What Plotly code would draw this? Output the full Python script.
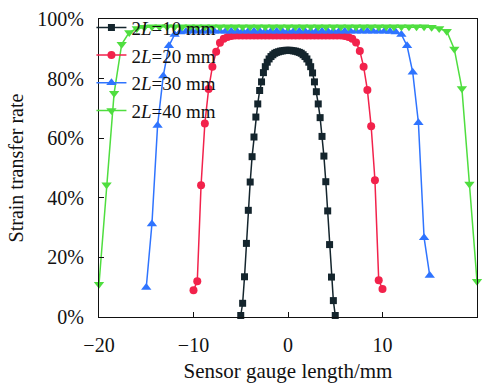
import plotly.graph_objects as go

# ---- data ----
x10 = [-5.0, -4.8, -4.6, -4.4, -4.2, -4.0, -3.8, -3.6, -3.4, -3.2, -3.0, -2.8, -2.6, -2.4, -2.2, -2.0,
       -1.8, -1.6, -1.4, -1.2, -1.0, -0.8, -0.6, -0.4, -0.2, 0.0, 0.2, 0.4, 0.6, 0.8, 1.0, 1.2, 1.4,
       1.6, 1.8, 2.0, 2.2, 2.4, 2.6, 2.8, 3.0, 3.2, 3.4, 3.6, 3.8, 4.0, 4.2, 4.4, 4.6, 4.8, 5.0]
y10 = [0.5, 4.6, 13.5, 24.7, 35.8, 45.3, 53.8, 60.4, 67.1, 71.5, 76.0, 78.9, 82.0, 84.0, 85.5, 86.6,
       87.4, 88.0, 88.5, 88.8, 89.0, 89.2, 89.3, 89.4, 89.5, 89.5, 89.5, 89.4, 89.3, 89.2, 89.0, 88.8,
       88.5, 88.0, 87.4, 86.6, 85.5, 84.0, 81.9, 78.9, 75.6, 71.5, 66.9, 60.6, 54.0, 45.4, 35.6, 24.3,
       13.4, 5.5, 0.5]

x20 = [-10.0, -9.6, -9.2, -8.8, -8.4, -8.0, -7.6, -7.2, -6.8, -6.4, -6.0, -5.6, -5.2, -4.8, -4.4, -4.0,
       -3.6, -3.2, -2.8, -2.4, -2.0, -1.6, -1.2, -0.8, -0.4, 0.0, 0.4, 0.8, 1.2, 1.6, 2.0, 2.4, 2.8, 3.2,
       3.6, 4.0, 4.4, 4.8, 5.2, 5.6, 6.0, 6.4, 6.8, 7.2, 7.6, 8.0, 8.4, 8.8, 9.2, 9.6, 10.0]
y20 = [9.0, 12.0, 44.2, 64.9, 76.5, 84.0, 89.0, 92.0, 93.4, 94.0, 94.3, 94.5, 94.5, 94.5, 94.5, 94.5,
       94.5, 94.5, 94.5, 94.5, 94.5, 94.5, 94.5, 94.5, 94.5, 94.5, 94.5, 94.5, 94.5, 94.5, 94.5, 94.5,
       94.5, 94.5, 94.5, 94.5, 94.5, 94.5, 94.5, 94.5, 94.3, 94.0, 93.4, 92.1, 89.3, 84.0, 76.2, 64.0,
       45.9, 12.3, 9.4]

x30 = [-15.0, -14.4, -13.8, -13.2, -12.6, -12.0, -11.4, -10.8, -10.2, -9.6, -9.0, -8.4, -7.8, -7.2,
       -6.6, -6.0, -5.4, -4.8, -4.2, -3.6, -3.0, -2.4, -1.8, -1.2, -0.6, 0.0, 0.6, 1.2, 1.8, 2.4, 3.0,
       3.6, 4.2, 4.8, 5.4, 6.0, 6.6, 7.2, 7.8, 8.4, 9.0, 9.6, 10.2, 10.8, 11.4, 12.0, 12.6, 13.2, 13.8,
       14.4, 15.0]
y30 = [9.9, 31.2, 64.3, 80.9, 91.0, 94.8, 95.6, 95.8, 95.9, 95.9, 95.9, 95.9, 95.9, 95.9, 95.9, 95.9,
       95.9, 95.9, 95.9, 95.9, 95.9, 95.9, 95.9, 95.9, 95.9, 95.9, 95.9, 95.9, 95.9, 95.9, 95.9, 95.9,
       95.9, 95.9, 95.9, 95.9, 95.9, 95.9, 95.9, 95.9, 95.9, 95.9, 95.9, 95.8, 95.6, 94.8, 91.0, 82.1,
       65.2, 26.6, 13.9]

x40 = [-20.0, -19.2, -18.4, -17.6, -16.8, -16.0, -15.2, -14.4, -13.6, -12.8, -12.0, -11.2, -10.4,
       -9.6, -8.8, -8.0, -7.2, -6.4, -5.6, -4.8, -4.0, -3.2, -2.4, -1.6, -0.8, 0.0, 0.8, 1.6, 2.4, 3.2,
       4.0, 4.8, 5.6, 6.4, 7.2, 8.0, 8.8, 9.6, 10.4, 11.2, 12.0, 12.8, 13.6, 14.4, 15.2, 16.0, 16.8,
       17.6, 18.4, 19.2, 20.0]
y40 = [11.0, 44.4, 75.1, 91.5, 95.5, 96.8, 97.2, 97.4, 97.4, 97.4, 97.4, 97.4, 97.4, 97.4, 97.4, 97.4,
       97.4, 97.4, 97.4, 97.4, 97.4, 97.4, 97.4, 97.4, 97.4, 97.4, 97.4, 97.4, 97.4, 97.4, 97.4, 97.4,
       97.4, 97.4, 97.4, 97.4, 97.4, 97.4, 97.4, 97.4, 97.4, 97.4, 97.4, 97.4, 97.2, 96.8, 95.9, 89.9,
       76.7, 44.6, 12.0]

x_ticks = [-20, -10, 0, 10, 20]
x_ticktext = ["\u221220", "\u221210", "0", "10", "20"]
y_ticks = [0, 20, 40, 60, 80, 100]
y_ticktext = ["0%", "20%", "40%", "60%", "80%", "100%"]

names = ["2<i>L</i>=10 mm", "2<i>L</i>=20 mm", "2<i>L</i>=30 mm", "2<i>L</i>=40 mm"]
colors = ["#14252d", "#f2224b", "#2f74ff", "#4fde3f"]
symbols = ["square", "circle", "triangle-up", "triangle-down"]
sizes = [7, 8, 9, 9]

FONT = "Liberation Serif"

fig = go.Figure()
for xs, ys, nm, c, s, sz in zip([x10, x20, x30, x40], [y10, y20, y30, y40], names, colors, symbols, sizes):
    fig.add_trace(go.Scatter(
        x=xs, y=ys, name=nm, mode="lines+markers",
        line=dict(color=c, width=1.5),
        marker=dict(symbol=s, size=sz, color=c, line=dict(width=0)),
        cliponaxis=False,
    ))

def axis_common():
    return dict(
        showline=True, linecolor="#111", linewidth=1, mirror=True,
        ticks="inside", ticklen=5, tickcolor="#111", tickwidth=1,
        showgrid=False, zeroline=False,
        tickfont=dict(family=FONT, size=20, color="#111"),
    )

fig.update_xaxes(range=[-20, 20], tickmode="array", tickvals=x_ticks, ticktext=x_ticktext,
                 title=dict(text="Sensor gauge length/mm", font=dict(family=FONT, size=21, color="#111"), standoff=8),
                 ticklabelstandoff=10, **axis_common())
fig.update_yaxes(range=[0, 100], tickmode="array", tickvals=y_ticks, ticktext=y_ticktext,
                 title=dict(text="Strain transfer rate", font=dict(family=FONT, size=20, color="#111"), standoff=8),
                 ticklabelstandoff=10, **axis_common())

fig.update_layout(
    width=486, height=387,
    margin=dict(l=99, r=8, t=19, b=64),
    paper_bgcolor="white", plot_bgcolor="white",
    font=dict(family=FONT, size=20, color="#111"),
    legend=dict(x=-0.02, y=1.035, xanchor="left", yanchor="top", bgcolor="rgba(0,0,0,0)",
                font=dict(family=FONT, size=19, color="#111"), borderwidth=0),
)

fig.write_html("out.html")
